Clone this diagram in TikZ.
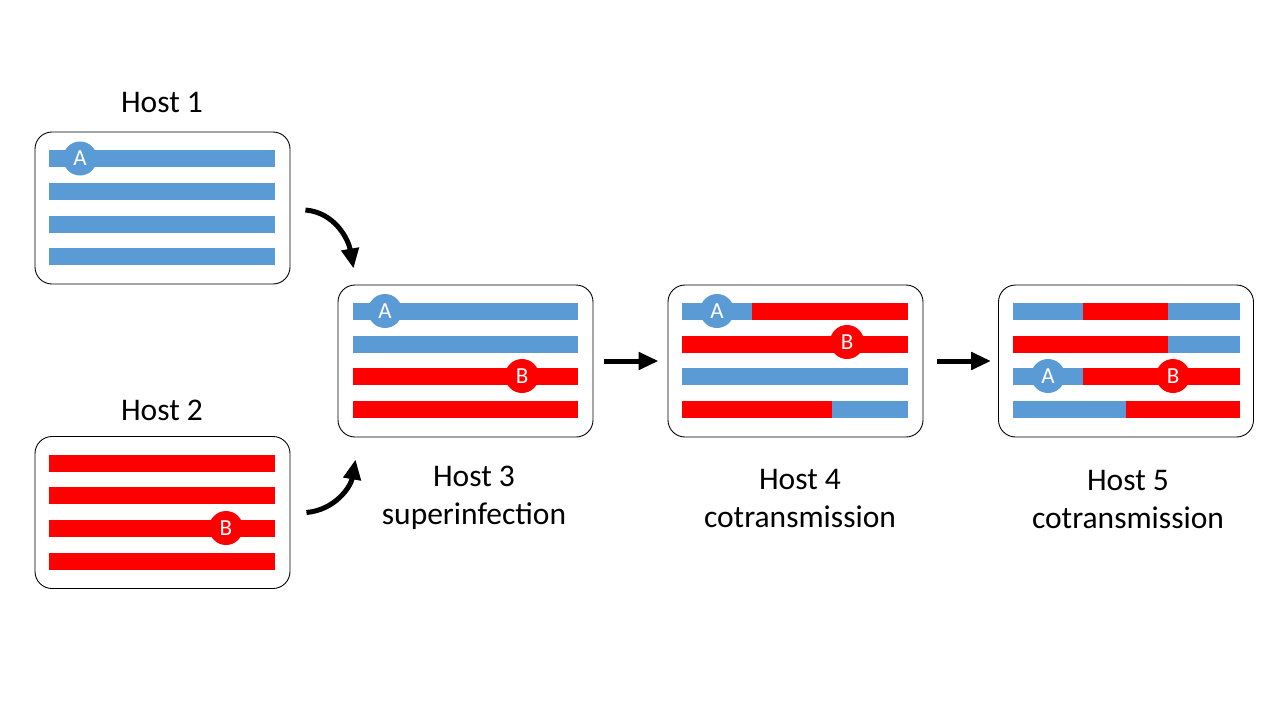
\documentclass[tikz,border=0pt]{standalone}
\usepackage{fontspec}
\setmainfont{Carlito}
\usetikzlibrary{arrows.meta,positioning}
\definecolor{hostblue}{HTML}{5B9BD5}
\definecolor{hostred}{HTML}{FF0000}
\tikzset{
	hostbox/.style={draw, line width=0.9pt, rounded corners=17pt, minimum width=255pt, minimum height=152pt},
	hostlabel/.style={font=\fontsize{31.5}{38}\selectfont, align=center},
	bluebar/.style={line width=17pt, hostblue},
	redbar/.style={line width=17pt, hostred},
	allele/.style={circle, minimum size=34pt, inner sep=0pt, text=white, font=\fontsize{23}{23}\selectfont},
	flow/.style={line width=5pt, -{Triangle[length=20pt,width=17pt]}}
}
\begin{document}
\begin{tikzpicture}[x=1pt,y=-1pt]
	\useasboundingbox (0,0) rectangle (1280,720);
	% hosts
	\node[hostbox] (h1) at (162.5,208) {};
	\node[hostbox] (h2) at (162.5,512.5) {};
	\node[hostbox] (h3) at (465.5,361) {};
	\node[hostbox] (h4) at (795.5,361) {};
	\node[hostbox] (h5) at (1126,361) {};
	\node[hostlabel] (l1) at (162,102) {Host 1};
	\node[hostlabel] (l2) at (162,410) {Host 2};
	\node[hostlabel] (l3) at (474,498) {Host 3\\superinfection};
	\node[hostlabel] (l4) at (800,498) {Host 4\\cotransmission};
	\node[hostlabel] (l5) at (1128,500) {Host 5\\cotransmission};
	% host 1
	\draw[bluebar] (49,158.5) -- (275,158.5);
	\draw[bluebar] (49,191) -- (275,191);
	\draw[bluebar] (49,224) -- (275,224);
	\draw[bluebar] (49,256) -- (275,256);
	\node[allele, fill=hostblue] (a1) at (80,158.5) {A};
	% host 2
	\draw[redbar] (49,463.5) -- (275,463.5);
	\draw[redbar] (49,495.5) -- (275,495.5);
	\draw[redbar] (49,528) -- (275,528);
	\draw[redbar] (49,561) -- (275,561);
	\node[allele, fill=hostred] (b2) at (226,528) {B};
	% host 3
	\draw[bluebar] (353,311) -- (578,311);
	\draw[bluebar] (353,344) -- (578,344);
	\draw[redbar] (353,376) -- (578,376);
	\draw[redbar] (353,409) -- (578,409);
	\node[allele, fill=hostblue] (a3) at (385,311) {A};
	\node[allele, fill=hostred] (b3) at (522,376) {B};
	% host 4
	\draw[bluebar] (682,311) -- (752,311);
	\draw[redbar] (752,311) -- (908,311);
	\draw[redbar] (682,344) -- (908,344);
	\draw[bluebar] (682,376) -- (908,376);
	\draw[redbar] (682,409) -- (832,409);
	\draw[bluebar] (832,409) -- (908,409);
	\node[allele, fill=hostblue] (a4) at (717,311) {A};
	\node[allele, fill=hostred] (b4) at (847,342) {B};
	% host 5
	\draw[bluebar] (1013,311) -- (1083,311);
	\draw[redbar] (1083,311) -- (1168,311);
	\draw[bluebar] (1168,311) -- (1240,311);
	\draw[redbar] (1013,344) -- (1168,344);
	\draw[bluebar] (1168,344) -- (1240,344);
	\draw[bluebar] (1013,376) -- (1083,376);
	\draw[redbar] (1083,376) -- (1240,376);
	\draw[bluebar] (1013,409) -- (1126,409);
	\draw[redbar] (1126,409) -- (1240,409);
	\node[allele, fill=hostblue] (a5) at (1048,376) {A};
	\node[allele, fill=hostred] (b5) at (1173,376) {B};
	% arrows
	\draw[flow] ([xshift=15pt,yshift=-2pt]h1.east) to[out=-5,in=100] ([xshift=16pt,yshift=16pt]h3.north west);
	\draw[flow] ([xshift=16pt,yshift=0pt]h2.east) to[out=5,in=-100] ([xshift=18pt,yshift=-22pt]h3.south west);
	\draw[flow] ([xshift=11pt]h3.east) -- ([xshift=-9pt]h4.west);
	\draw[flow] ([xshift=14pt]h4.east) -- ([xshift=-7pt]h5.west);
\end{tikzpicture}
\end{document}
